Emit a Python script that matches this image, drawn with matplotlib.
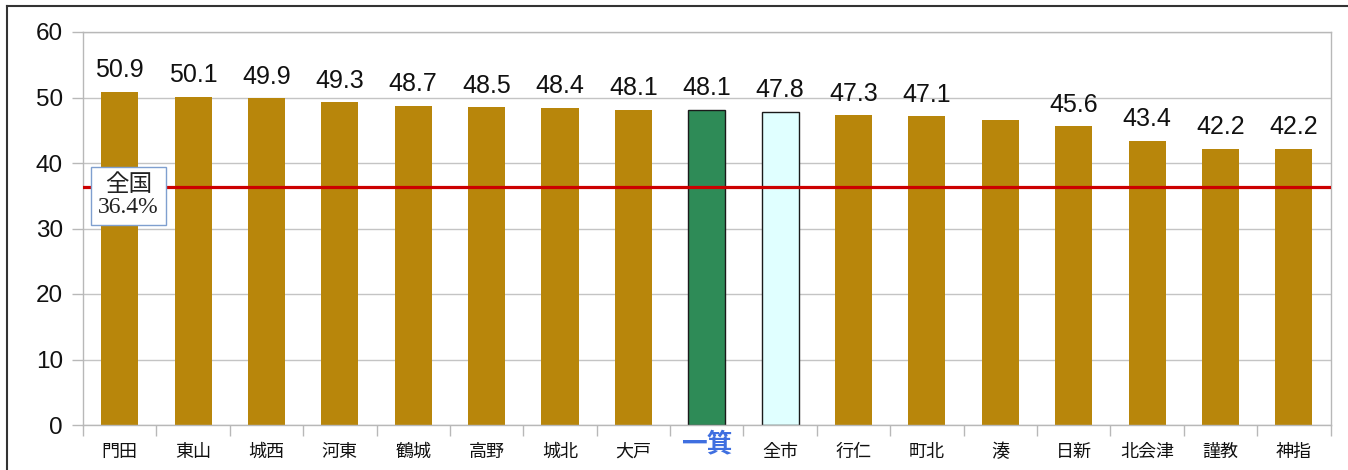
import matplotlib
matplotlib.use("Agg")
import matplotlib.pyplot as plt
from matplotlib.lines import Line2D
from matplotlib.transforms import blended_transform_factory

districts = ["門田", "東山", "城西", "河東", "鶴城", "高野", "城北", "大戸", "一箕",
             "全市", "行仁", "町北", "湊", "日新", "北会津", "謹教", "神指"]
rates = [50.9, 50.1, 49.9, 49.3, 48.7, 48.5, 48.4, 48.1, 48.1,
         47.8, 47.3, 47.1, 46.6, 45.6, 43.4, 42.2, 42.2]
show_value = [True] * 12 + [False] + [True] * 4
national_rate = 36.4
national_label = "全国\n36.4%"
y_ticks = [0, 10, 20, 30, 40, 50, 60]

highlight = "一箕"
city_total = "全市"

W, H = 1348, 470
fig = plt.figure(figsize=(W / 100, H / 100), dpi=100)
fig.patch.set_facecolor("white")

left, right, top, bottom = 83, 1330.5, 32, 425
ax = fig.add_axes([left / W, (H - bottom) / H, (right - left) / W, (bottom - top) / H])

colors, edges = [], []
for name in districts:
    if name == highlight:
        colors.append("#2E8B57"); edges.append("#1a1a1a")
    elif name == city_total:
        colors.append("#E0FFFF"); edges.append("#1a1a1a")
    else:
        colors.append("#B8860B"); edges.append("none")

x = list(range(len(districts)))
ax.bar(x, rates, width=0.505, color=colors, edgecolor=edges, linewidth=1.0, zorder=2)

ax.set_xlim(-0.5, len(districts) - 0.5)
ax.set_ylim(0, 60)
ax.set_yticks(y_ticks)
ax.yaxis.grid(True, color="#c4c4c4", linewidth=1.0, zorder=0)
ax.set_axisbelow(True)

for s in ax.spines.values():
    s.set_color("#b8b8b8")
    s.set_linewidth(1.0)

ax.tick_params(axis="y", length=8, width=1, color="#b8b8b8", pad=6.5,
               labelsize=17.5, labelcolor="#111111")
for lab in ax.get_yticklabels():
    lab.set_fontfamily(["Liberation Sans", "DejaVu Sans"])

# category boundaries as downward ticks
ax.set_xticks([])
ax.set_xticks([i - 0.5 for i in range(len(districts) + 1)], minor=True)
ax.tick_params(axis="x", which="minor", length=8, width=1, color="#b8b8b8",
               labelbottom=False)

trans = blended_transform_factory(ax.transData, ax.transAxes)
for i, name in enumerate(districts):
    if name == highlight:
        ax.text(i, -0.047, name, transform=trans, ha="center", va="center",
                fontsize=18.5, fontweight="bold", color="#3f6fe0",
                family=["Noto Sans CJK JP"])
    else:
        ax.text(i, -0.068, name, transform=trans, ha="center", va="center",
                fontsize=13, color="#111111", family=["Noto Sans CJK JP"])

# value labels above bars
for i, (v, show) in enumerate(zip(rates, show_value)):
    if show:
        ax.annotate(f"{v:.1f}", (i, v), xytext=(0, 10.5), textcoords="offset points",
                    ha="center", va="baseline", fontsize=18, color="#111111",
                    family=["Liberation Sans", "DejaVu Sans"])

# national average
ax.axhline(national_rate, color="#CC0000", linewidth=2.3, zorder=3)
ax.text(0.12, 35.0, national_label, ha="center", va="center", fontsize=17,
        linespacing=1.05, color="#222222",
        family=["Liberation Serif", "Noto Sans CJK JP"], zorder=4,
        bbox=dict(boxstyle="square,pad=0.3", facecolor="white",
                  edgecolor="#7f9fcf", linewidth=1.0))

# outer chart frame
fig.add_artist(Line2D([7 / W, 7 / W], [0, 1 - 6 / H], transform=fig.transFigure,
                      color="#333333", linewidth=1.5))
fig.add_artist(Line2D([7 / W, 1], [1 - 6 / H, 1 - 6 / H], transform=fig.transFigure,
                      color="#333333", linewidth=1.5))

fig.savefig("out.png", dpi=100, facecolor="white")
